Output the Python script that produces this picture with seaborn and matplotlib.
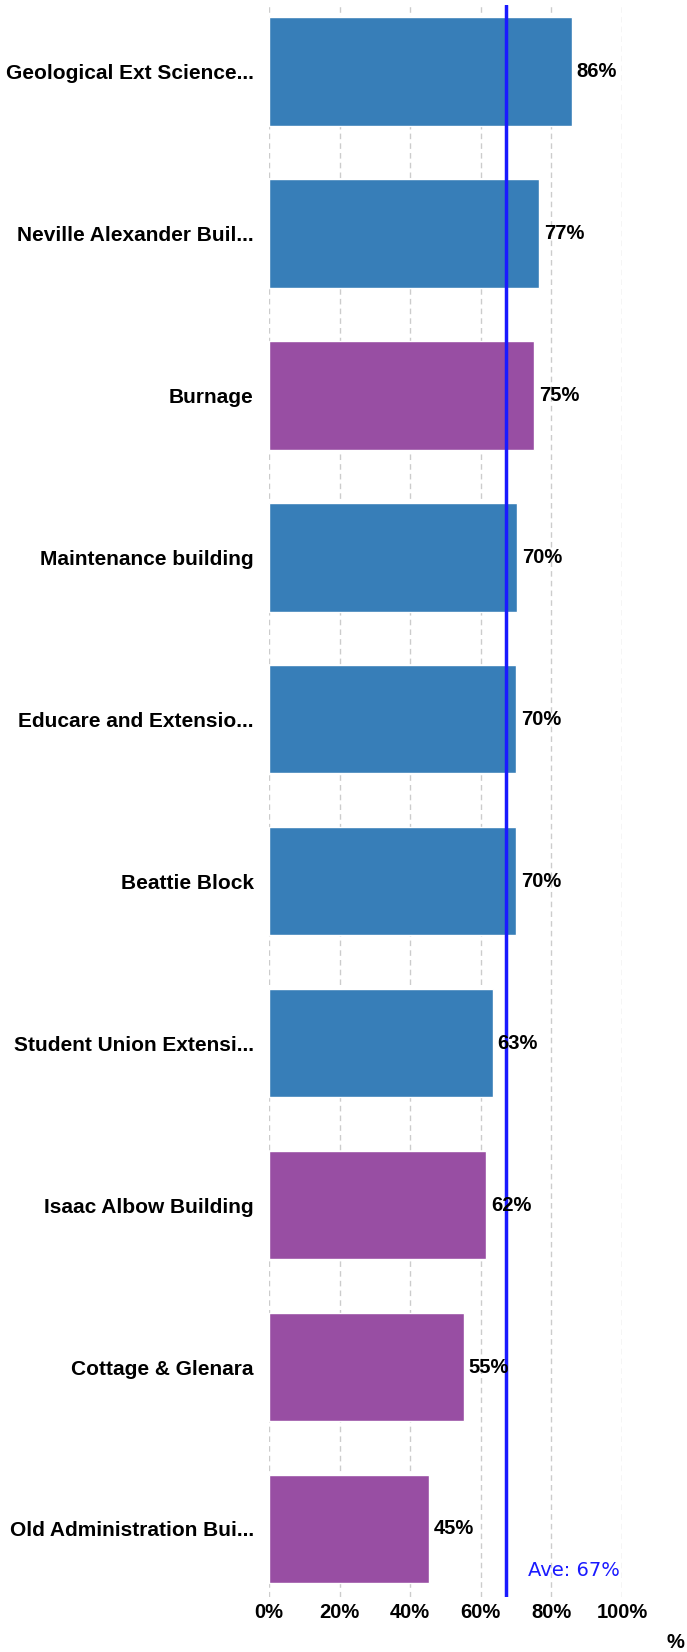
import matplotlib
matplotlib.use("Agg")
import matplotlib.pyplot as plt
import pandas as pd
import seaborn as sns

buildings = ["Geological Ext Science...", "Neville Alexander Buil...", "Burnage",
             "Maintenance building", "Educare and Extensio...", "Beattie Block",
             "Student Union Extensi...", "Isaac Albow Building", "Cottage & Glenara",
             "Old Administration Bui..."]
scores = [85.8, 76.6, 75.0, 70.3, 70.0, 70.0, 63.4, 61.6, 55.1, 45.4]
labels = ["86%", "77%", "75%", "70%", "70%", "70%", "63%", "62%", "55%", "45%"]
groups = ["blue", "blue", "purple", "blue", "blue", "blue", "blue", "purple", "purple", "purple"]
average = 67
xticks = [0, 20, 40, 60, 80, 100]

colors = {"blue": "#377eb8", "purple": "#984ea3"}
df = pd.DataFrame({"building": buildings, "score": scores, "group": groups})

sns.set_style("white")
plt.rcParams["font.family"] = ["Liberation Sans", "DejaVu Sans"]
plt.rcParams["text.color"] = "black"
plt.rcParams["xtick.labelcolor"] = "black"
plt.rcParams["ytick.labelcolor"] = "black"

fig = plt.figure(figsize=(6.87, 16.52), dpi=100)
ax = fig.add_axes([269 / 687, 55 / 1652, 353 / 687, 1592 / 1652])

sns.barplot(data=df, x="score", y="building", hue="group", palette=colors,
            orient="h", width=0.67, dodge=False, legend=False, saturation=1,
            ax=ax, zorder=2)

ax.set_xlim(0, 100)
ax.set_ylim(9.42, -0.41)
ax.set_xticks(xticks)
ax.set_xticklabels([f"{t}%" for t in xticks], fontsize=14.5, fontweight="bold")
ax.tick_params(axis="x", length=3.5, width=1, color="#f5a04a", pad=0.5)
ax.tick_params(axis="y", length=0, pad=11)
for t in ax.get_yticklabels():
    t.set_fontsize(15)
    t.set_fontweight("bold")
ax.set_xlabel("")
ax.set_ylabel("")
for s in ax.spines.values():
    s.set_visible(False)
ax.grid(axis="x", color="#cccccc", linestyle=(0, (4, 3)), linewidth=1, zorder=0)
ax.set_axisbelow(True)

# value labels just past each bar end
for i, (v, lab) in enumerate(zip(scores, labels)):
    ax.text(v + 1.4, i, lab, va="center", ha="left", fontsize=14.5,
            fontweight="bold", zorder=4, clip_on=False)

# average line and its label
ax.axvline(average, color="#1a1aff", linewidth=2.5, zorder=3)
ax.text(73.4, 9.29, f"Ave: {average}%", color="#1a1aff",
        fontsize=14, family="DejaVu Sans", ha="left", va="baseline", zorder=4)

fig.text(675 / 687, 1 - 1643 / 1652, "%", fontsize=14.5, fontweight="bold",
         ha="center", va="center")

fig.savefig("out.png", dpi=100)
